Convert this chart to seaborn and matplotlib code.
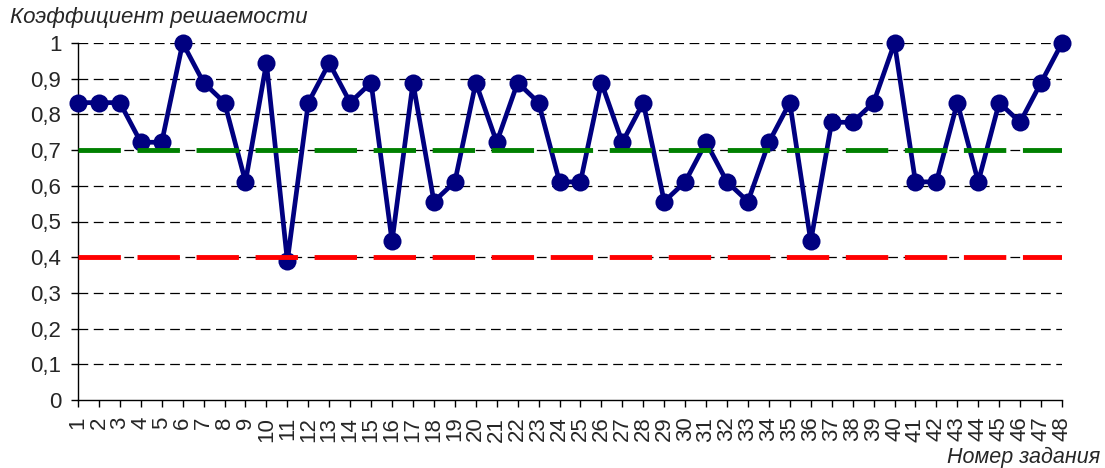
import matplotlib
matplotlib.use("Agg")
import matplotlib.pyplot as plt
import seaborn as sns
import pandas as pd
import numpy as np

# Data
tasks = list(range(1, 49))
solvability = [
    0.833, 0.833, 0.833, 0.722, 0.722, 1.000, 0.889, 0.833, 0.611, 0.944,
    0.389, 0.833, 0.944, 0.833, 0.889, 0.444, 0.889, 0.556, 0.611, 0.889,
    0.722, 0.889, 0.833, 0.611, 0.611, 0.889, 0.722, 0.833, 0.556, 0.611,
    0.722, 0.611, 0.556, 0.722, 0.833, 0.444, 0.778, 0.778, 0.833, 1.000,
    0.611, 0.611, 0.833, 0.611, 0.833, 0.778, 0.889, 1.000,
]
upper_level = 0.7
lower_level = 0.4
y_ticks = [0, 0.1, 0.2, 0.3, 0.4, 0.5, 0.6, 0.7, 0.8, 0.9, 1.0]
y_labels = ["0", "0,1", "0,2", "0,3", "0,4", "0,5", "0,6", "0,7", "0,8", "0,9", "1"]

sns.set_style("white")
plt.rcParams['font.family'] = ['Liberation Sans', 'DejaVu Sans']
plt.rcParams['lines.scale_dashes'] = False

df = pd.DataFrame({"task": tasks, "k": solvability})

fig = plt.figure(figsize=(11.05, 4.68), dpi=100)
ax = fig.add_axes([78 / 1105, 1 - 400 / 468, (1062 - 78) / 1105, (400 - 43) / 468])

# grid
ax.set_ylim(0, 1)
ax.set_xlim(1, 48)
ax.set_yticks(y_ticks)
ax.set_yticklabels(y_labels)
for yv in y_ticks[1:]:
    ax.axhline(yv, color="black", lw=0.9, dashes=(7, 4), zorder=1)

sns.lineplot(data=df, x="task", y="k", ax=ax, color="#000080", linewidth=3.4,
             marker="o", markersize=13, markeredgewidth=0, zorder=3, clip_on=False)

# threshold levels
ax.axhline(upper_level, color="#008000", lw=3.5, dashes=(30.5, 12), zorder=4)
ax.axhline(lower_level, color="#ff0000", lw=3.5, dashes=(30.5, 12), zorder=4)

ax.set_xticks(tasks)
ax.set_xticklabels([str(t) for t in tasks], rotation=90)
ax.tick_params(axis="both", labelsize=16, direction="out", length=5, width=1,
               color="black", pad=7)
ax.tick_params(axis="y", left=True)
ax.tick_params(axis="x", bottom=True, pad=7)

for s in ["top", "right"]:
    ax.spines[s].set_visible(False)
for s in ["left", "bottom"]:
    ax.spines[s].set_color("black")
    ax.spines[s].set_linewidth(1)

ax.set_xlabel("")
ax.set_ylabel("")
fig.text(10 / 1105, 1 - 18 / 468, "Коэффициент решаемости", fontsize=16,
         style="italic", ha="left", va="center")
fig.text(1100 / 1105, 1 - 457 / 468, "Номер задания", fontsize=15.5,
         style="italic", ha="right", va="center")

fig.savefig("out.png", dpi=100)
